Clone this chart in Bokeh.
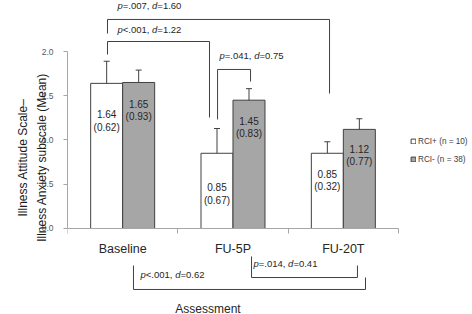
from bokeh.plotting import figure
from bokeh.models import (ColumnDataSource, LinearAxis, FixedTicker, Whisker, TeeHead,
                          Legend, LegendItem, NumeralTickFormatter, Range1d)
from bokeh.core.properties import value
from bokeh.embed import file_html
from bokeh.resources import INLINE

# ---------------- data ----------------
categories = ["Baseline", "FU-5P", "FU-20T"]
rci_pos_mean = [1.64, 0.85, 0.85]
rci_pos_sd = [0.62, 0.67, 0.32]
rci_pos_err = [0.25, 0.28, 0.13]
rci_neg_mean = [1.65, 1.45, 1.12]
rci_neg_sd = [0.93, 0.83, 0.77]
rci_neg_err = [0.14, 0.13, 0.12]
series_names = ["RCI+ (n = 10)", "RCI- (n = 38)"]
y_ticks = [0.0, 0.5, 1.0, 1.5, 2.0]
y_title = "Illness Attitude Scale\u2013\nIllness Anxiety subscale (Mean)"
x_title = "Assessment"
comp_p = ["=.007", "<.001", "=.041", "<.001", "=.014"]
comp_d = ["1.60", "1.22", "0.75", "0.62", "0.41"]

# ---------------- layout / style ----------------
FONT_NAME = "Liberation Sans"
FONT = value(FONT_NAME)
DARK = "#404040"
BAR_W = 0.29
# bracket geometry: x1, x2, y at left leg end, y of bar, y at right leg end
bracket_geom = [
    (0.3625, 2.375, 2.203, 2.362, 1.525),
    (0.3625, 1.287, 1.966, 2.113, 1.254),
    (1.360, 1.659, 1.232, 1.797, 1.661),
    (0.598, 2.701, -0.418, -0.689, -0.554),
    (1.668, 2.628, -0.316, -0.554, -0.418),
]
label_pos = [(0.453, 2.515), (0.453, 2.249), (1.378, 1.955), (0.662, -0.520), (1.686, -0.395)]
ANN_SIZE = 9.5

p = figure(width=472, height=314, x_range=Range1d(0, 3.6707), y_range=Range1d(-0.9718, 2.5763),
           output_backend="svg", toolbar_location=None, x_axis_type=None, y_axis_type=None,
           min_border_left=67, min_border_right=0, min_border_top=0, min_border_bottom=0)
p.outline_line_color = None
p.background_fill_color = "white"
p.border_fill_color = "white"

# y axis
yax = LinearAxis(ticker=FixedTicker(ticks=y_ticks, minor_ticks=[]),
                 formatter=NumeralTickFormatter(format="0.0"), bounds=(0, 2),
                 axis_label=y_title)
yax.axis_line_color = "#a6a6a6"
yax.major_tick_line_color = "#a6a6a6"
yax.major_tick_in = 0
yax.major_tick_out = 4
yax.minor_tick_line_color = None
yax.major_label_standoff = 10
yax.major_label_text_font = FONT_NAME
yax.major_label_text_font_size = "8.5px"
yax.major_label_text_color = "#595959"
yax.axis_label_text_font = FONT_NAME
yax.axis_label_text_font_size = "12px"
yax.axis_label_text_font_style = "normal"
yax.axis_label_text_line_height = 1.35
yax.axis_label_text_color = "#1a1a1a"
yax.axis_label_standoff = -10
p.add_layout(yax, "left")

# x axis line with boundary ticks
n = len(categories)
xax = LinearAxis(fixed_location=0, ticker=FixedTicker(ticks=list(range(n + 1)), minor_ticks=[]),
                 bounds=(0, n), major_label_overrides={i: "" for i in range(n + 1)})
xax.axis_line_color = "#a6a6a6"
xax.major_tick_line_color = "#a6a6a6"
xax.major_tick_in = 0
xax.major_tick_out = 5
xax.minor_tick_line_color = None
p.add_layout(xax, "below")

# category labels
centers = [i + 0.5 for i in range(n)]
xlab = LinearAxis(fixed_location=0, ticker=FixedTicker(ticks=centers, minor_ticks=[]),
                  bounds=(0, 2.55), major_label_overrides={c: cat for c, cat in zip(centers, categories)},
                  axis_label=x_title)
xlab.axis_line_color = None
xlab.major_tick_line_color = None
xlab.minor_tick_line_color = None
xlab.major_tick_out = 0
xlab.major_tick_in = 0
xlab.major_label_standoff = 14
xlab.major_label_text_font = FONT_NAME
xlab.major_label_text_font_size = "12.5px"
xlab.major_label_text_color = "#262626"
xlab.axis_label_text_font = FONT_NAME
xlab.axis_label_text_font_size = "12px"
xlab.axis_label_text_font_style = "normal"
xlab.axis_label_text_color = "#262626"
xlab.axis_label_standoff = 42
p.add_layout(xlab, "below")


def make_src(offset, means, sds, errs):
    return ColumnDataSource(dict(
        x=[c + offset for c in centers], top=means,
        upper=[m + e for m, e in zip(means, errs)],
        lower=[m - e for m, e in zip(means, errs)],
        l1=[f"{m:.2f}" for m in means],
        l2=[f"({s:.2f})" for s in sds]))


src_pos = make_src(-BAR_W / 2, rci_pos_mean, rci_pos_sd, rci_pos_err)
src_neg = make_src(BAR_W / 2, rci_neg_mean, rci_neg_sd, rci_neg_err)

r_pos = p.vbar(x="x", top="top", bottom=0, width=BAR_W, fill_color="white",
               line_color=DARK, line_width=1, source=src_pos)
r_neg = p.vbar(x="x", top="top", bottom=0, width=BAR_W, fill_color="#a6a6a6",
               line_color=DARK, line_width=1, source=src_neg)

for src in (src_pos, src_neg):
    p.add_layout(Whisker(source=src, base="x", upper="upper", lower="lower",
                         line_color=DARK, line_width=1,
                         upper_head=TeeHead(size=6, line_color=DARK, line_width=1),
                         lower_head=TeeHead(size=6, line_color=DARK, line_width=1)))
    p.text(x="x", y="lower", text="l1", y_offset=9, text_align="center", text_baseline="middle",
           text_font=FONT, text_font_size="10px", text_color="#262626", source=src)
    p.text(x="x", y="lower", text="l2", y_offset=22, text_align="center", text_baseline="middle",
           text_font=FONT, text_font_size="10px", text_color="#262626", source=src)

# significance brackets
xs = [[g[0], g[0], g[1], g[1]] for g in bracket_geom]
ys = [[g[2], g[3], g[3], g[4]] for g in bracket_geom]
p.multi_line(xs=xs, ys=ys, line_color=DARK, line_width=1)

ann = ColumnDataSource(dict(
    x=[lp[0] for lp in label_pos], y=[lp[1] for lp in label_pos],
    p=["p"] * len(comp_p), prel=[f"{v}, " for v in comp_p],
    d=["d"] * len(comp_d), dval=[f"={v}" for v in comp_d]))
em = ANN_SIZE
offsets = [("p", 0, "italic"), ("prel", 0.556 * em, "normal"),
           ("d", 3.642 * em, "italic"), ("dval", 4.198 * em, "normal")]
for col, off, style in offsets:
    p.text(x="x", y="y", text=col, x_offset=off, text_align="left", text_baseline="middle",
           text_font=FONT, text_font_size=f"{ANN_SIZE}px", text_font_style=style,
           text_color="#262626", source=ann)

legend = Legend(items=[LegendItem(label=series_names[0], renderers=[r_pos]),
                       LegendItem(label=series_names[1], renderers=[r_neg])],
                location=(343, 150), glyph_width=6, glyph_height=6, label_height=10,
                label_standoff=2, spacing=8, padding=0, margin=0,
                border_line_color=None, background_fill_alpha=0,
                label_text_font=FONT_NAME, label_text_font_size="8.2px", label_text_color="#404040")
p.add_layout(legend)

open("out.html", "w").write(file_html(p, INLINE))
